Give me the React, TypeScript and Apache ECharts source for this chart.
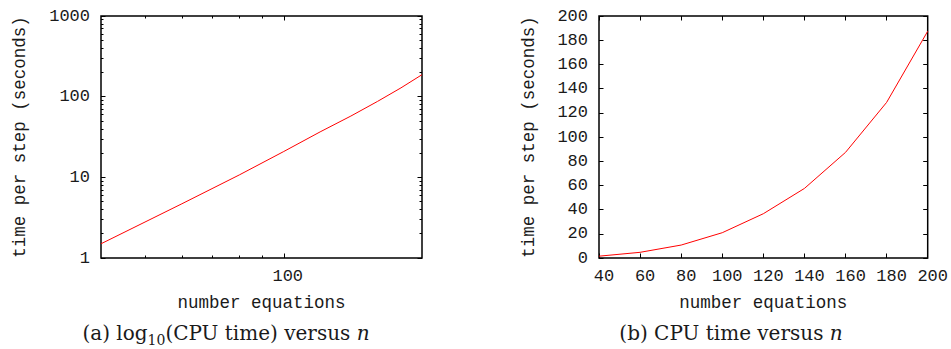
import React, { useEffect, useRef } from "react";
import * as echarts from "echarts";

// Data
const nEquations = [40, 60, 80, 100, 120, 140, 160, 180, 200];
const timePerStep = [1.5, 4.7, 10.7, 20.9, 36.6, 57.5, 87.3, 128.6, 187.4];

// Tick values
const logXMajor = [100];
const logXMinor = [50, 60, 70, 80, 90];
const logYMajor = [1, 10, 100, 1000];
const logYMinor = [2, 3, 4, 5, 6, 7, 8, 9, 20, 30, 40, 50, 60, 70, 80, 90, 200, 300, 400, 500, 600, 700, 800, 900];

const xTitle = "number equations";
const yTitle = "time per step (seconds)";

const MONO = "Liberation Mono";
const SERIF = "DejaVu Serif";
const TXT = "#1a1a1a";

export default function App() {
  const ref = useRef<HTMLDivElement>(null);

  useEffect(() => {
    if (!ref.current) return;
    const chart = echarts.init(ref.current, undefined, { renderer: "svg" });

    const pairs = nEquations.map((n, i) => [n, timePerStep[i]]);
    const tickLine = { color: "#000", width: 1 };
    const labelStyle = { fontFamily: MONO, fontSize: 17, color: TXT };
    const nameStyle = { fontFamily: MONO, fontSize: 17.5, color: TXT };
    const plain = (v: number) => String(v);
    const MAJ = 4.5;
    const MIN = 2.5;
    const noLine = { show: false, onZero: false };

    const logX = (pos: string, vals: number[], len: number, main: boolean) => ({
      type: "log",
      gridIndex: 0,
      min: 40,
      max: 200,
      position: pos,
      axisLine: noLine,
      axisTick: { show: true, inside: true, length: len, customValues: vals, lineStyle: tickLine },
      axisLabel: main
        ? { show: true, customValues: logXMajor, formatter: plain, margin: 10, padding: [0, 0, 0, 8], ...labelStyle }
        : { show: false },
      splitLine: { show: false },
      minorTick: { show: false },
      ...(main
        ? { name: xTitle, nameLocation: "middle", nameGap: 36, nameTextStyle: nameStyle }
        : {}),
    });
    const logY = (pos: string, vals: number[], len: number, main: boolean) => ({
      type: "log",
      gridIndex: 0,
      min: 1,
      max: 1000,
      position: pos,
      axisLine: noLine,
      axisTick: { show: true, inside: true, length: len, customValues: vals, lineStyle: tickLine },
      axisLabel: main
        ? { show: true, customValues: logYMajor, formatter: plain, margin: 11, ...labelStyle }
        : { show: false },
      splitLine: { show: false },
      minorTick: { show: false },
      ...(main
        ? { name: yTitle, nameLocation: "middle", nameGap: 72, nameTextStyle: nameStyle }
        : {}),
    });
    const linX = (pos: string, main: boolean) => ({
      type: "value",
      gridIndex: 1,
      min: 40,
      max: 200,
      interval: 20,
      position: pos,
      axisLine: noLine,
      axisTick: { show: true, inside: true, length: MAJ, lineStyle: tickLine },
      axisLabel: main
        ? { show: true, margin: 10, padding: [0, 0, 0, 10], ...labelStyle }
        : { show: false },
      splitLine: { show: false },
      ...(main
        ? { name: xTitle, nameLocation: "middle", nameGap: 36, nameTextStyle: nameStyle }
        : {}),
    });
    const linY = (pos: string, main: boolean) => ({
      type: "value",
      gridIndex: 1,
      min: 0,
      max: 200,
      interval: 20,
      position: pos,
      axisLine: noLine,
      axisTick: { show: true, inside: true, length: MAJ, lineStyle: tickLine },
      axisLabel: main ? { show: true, margin: 11, ...labelStyle } : { show: false },
      splitLine: { show: false },
      ...(main
        ? { name: yTitle, nameLocation: "middle", nameGap: 61, nameTextStyle: nameStyle }
        : {}),
    });

    const mainRich = { fontFamily: SERIF, fontSize: 20, lineHeight: 28, verticalAlign: "middle", fill: TXT };

    chart.setOption({
      animation: false,
      backgroundColor: "#fff",
      grid: [
        { left: 101, top: 16, width: 321, height: 242, show: true, borderColor: "#000", borderWidth: 1.5, backgroundColor: "transparent" },
        { left: 599, top: 16, width: 332, height: 242, show: true, borderColor: "#000", borderWidth: 1.5, backgroundColor: "transparent" },
      ],
      xAxis: [
        logX("bottom", logXMajor, MAJ, true),
        logX("top", logXMajor, MAJ, false),
        logX("bottom", logXMinor, MIN, false),
        logX("top", logXMinor, MIN, false),
        linX("bottom", true),
        linX("top", false),
      ],
      yAxis: [
        logY("left", logYMajor, MAJ, true),
        logY("right", logYMajor, MAJ, false),
        logY("left", logYMinor, MIN, false),
        logY("right", logYMinor, MIN, false),
        linY("left", true),
        linY("right", false),
      ],
      series: [
        {
          type: "line",
          xAxisIndex: 0,
          yAxisIndex: 0,
          data: pairs,
          showSymbol: false,
          symbol: "none",
          lineStyle: { color: "#ff0000", width: 1 },
        },
        {
          type: "line",
          xAxisIndex: 4,
          yAxisIndex: 4,
          data: pairs,
          showSymbol: false,
          symbol: "none",
          lineStyle: { color: "#ff0000", width: 1 },
        },
      ],
      graphic: [
        {
          type: "text",
          x: 226,
          y: 333,
          style: {
            text: "{m|(a) log}{s|10}{m|(CPU time) versus }{i|n}",
            align: "center",
            verticalAlign: "middle",
            fill: TXT,
            rich: {
              m: mainRich,
              s: { fontFamily: SERIF, fontSize: 14, verticalAlign: "bottom", fill: TXT },
              i: { ...mainRich, fontStyle: "italic" },
            },
          },
        },
        {
          type: "text",
          x: 731,
          y: 333,
          style: {
            text: "{m|(b) CPU time versus }{i|n}",
            align: "center",
            verticalAlign: "middle",
            fill: TXT,
            rich: {
              m: mainRich,
              i: { ...mainRich, fontStyle: "italic" },
            },
          },
        },
      ],
    });

    return () => chart.dispose();
  }, []);

  return (
    <div
      ref={ref}
      style={{ position: "fixed", left: 0, top: 0, width: 951, height: 349, background: "#fff" }}
    />
  );
}
